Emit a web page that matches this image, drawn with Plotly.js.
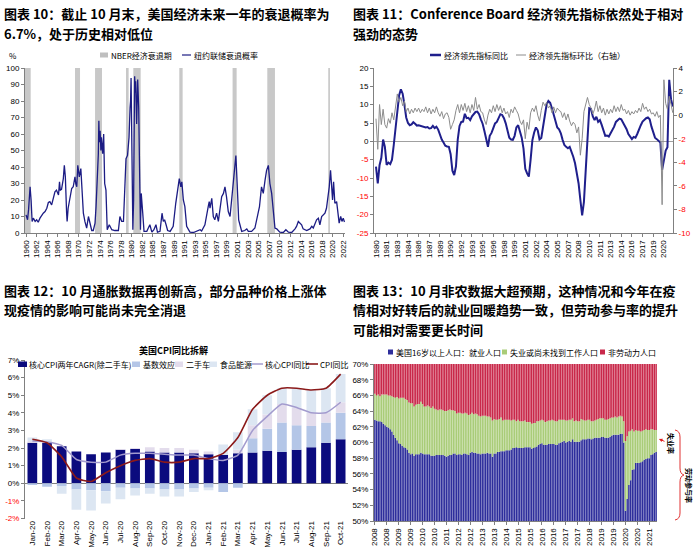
<!DOCTYPE html>
<html><head><meta charset="utf-8">
<script src="https://cdn.plot.ly/plotly-3.0.1.min.js"></script>
<style>html,body{margin:0;padding:0;background:#fff}#c{width:700px;height:557px}</style>
</head><body><div id="c"></div>
<script>
// ===== Panel 10: NY Fed recession probability (%) =====
const probX = [1960.0,1960.15,1960.3,1960.5,1960.65,1960.8,1961.0,1961.2,1961.45,1961.8,1962.1,1962.4,1962.75,1963.1,1963.4,1963.75,1964.1,1964.4,1964.7,1965.05,1965.4,1965.7,1966.0,1966.4,1966.6,1966.75,1967.0,1967.35,1967.55,1967.75,1968.0,1968.1,1968.3,1968.5,1968.7,1969.0,1969.3,1969.65,1969.8,1970.0,1970.2,1970.5,1970.8,1971.0,1971.3,1971.6,1971.95,1972.3,1972.6,1972.95,1973.25,1973.6,1973.8,1974.05,1974.25,1974.35,1974.45,1974.6,1974.75,1974.85,1975.0,1975.1,1975.3,1975.5,1975.75,1976.0,1976.4,1976.9,1977.5,1978.2,1978.5,1978.85,1979.2,1979.5,1979.7,1980.0,1980.3,1980.5,1980.6,1980.7,1980.9,1981.05,1981.2,1981.35,1981.4,1981.55,1981.6,1981.8,1982.0,1982.2,1982.4,1982.55,1982.7,1982.9,1983.0,1983.25,1983.8,1984.1,1984.4,1984.8,1985.2,1985.6,1985.9,1986.4,1986.8,1987.05,1987.3,1987.6,1987.9,1988.4,1989.0,1989.5,1989.9,1990.2,1990.5,1990.7,1991.0,1991.3,1991.65,1992.3,1993.0,1993.6,1994.3,1994.6,1995.25,1995.9,1996.1,1996.25,1996.6,1996.9,1997.2,1997.55,1997.9,1998.2,1998.55,1998.9,1999.2,1999.5,1999.85,2000.2,2000.5,2000.85,2001.1,2001.35,2001.6,2001.9,2002.15,2002.5,2003.1,2003.5,2003.8,2004.45,2005.1,2005.55,2006.0,2006.4,2006.75,2007.1,2007.4,2007.75,2008.05,2008.4,2008.7,2009.05,2009.4,2010.0,2010.7,2011.2,2011.7,2012.35,2013.0,2013.3,2013.65,2014.0,2014.3,2014.6,2015.3,2015.95,2016.3,2016.6,2016.9,2017.25,2017.6,2017.9,2018.25,2018.55,2018.9,2019.2,2019.55,2019.75,2020.0,2020.2,2020.4,2020.6,2020.85,2021.2,2021.5,2021.7,2022.0,2022.25,2022.5,2022.75];
const probY = [11,10,8,14,22,28,20,7,9,7,8,6.5,9,11,12,13,15,18.5,19,17,20.5,25,26,23,31,26,26.5,33,41,34,12,7,15,19,22,27,28,34,30,28,41,34,39,24,12,7,3,10,6,1.5,1.5,6,16,36,48,68,55,62,50,58,52,48,60,30,26,2,5,2,1.5,1.5,10,7,7,36,45,47,58,76,80,94,46,2,20,75,95,85,92,66,93,76,26,2,24,18,12,1,1,3,5,0.5,2,5,0.5,1,12,7,8,5,1.5,1,4,18,26,33,28,31,20,16,4,0.5,0.3,1,2,1.2,5,16,19,15,21,10,8,12,7,14,22,24,28,22,13,10,20,30,36,47,30,8,5,1,1.5,2.5,1,1,3,10,16,28,24,32,38,41,30,24,12,3,2.5,0.5,0.3,2,0.5,0.3,2.5,4,7,6,5,2.5,1.5,2.5,4,3,5,8,9,5,10,11,12,15,22,28,38,30,20,31,18,19,12,6,10,7,9,6.7];
const recStart = [1959.8,1969.65,1973.6,1979.7,1981.14,1990.2,2000.7,2007.54,2019.55];
const recEnd   = [1960.92,1970.64,1974.97,1980.22,1982.59,1990.86,2001.5,2009.05,2019.88];
const p10TickText = ['1960','1962','1964','1966','1968','1970','1972','1974','1976','1978','1980','1982','1985','1987','1989','1991','1993','1995','1997','1999','2001','2003','2005','2007','2010','2012','2014','2016','2018','2020','2022'];

// ===== Panel 11: Conference Board LEI, quarterly (Jan/Apr/Jul/Oct) from 1980 =====
const leiStartYear = 1980;
const leiYoY = [
 -6.9,-11.5,-6.5,-4.5,  0.5,-1.5,-6.4,-5.8,  -6.2,-5.0,-1.0,3.5,  9.0,12.5,14.2,13.0,
 10.0,6.5,5.0,4.4,  4.6,5.2,4.8,4.3,  4.4,4.2,4.0,4.0,  3.8,3.9,3.5,3.6,
 4.2,3.6,4.0,3.2,  1.5,0.5,-0.3,-1.2,  -1.4,-1.5,-3.5,-8.0,  -9.2,-6.8,0.5,4.2,
 5.3,5.4,7.5,6.3,  6.4,5.8,6.8,7.4,  8.0,8.1,7.4,6.0,  4.8,2.8,0.8,-1.5,
 1.5,2.3,3.6,4.9,  5.3,6.6,7.4,7.2,  6.3,4.9,3.2,1.0,  0.5,0.4,1.5,3.8,
 4.4,3.0,1.0,-2.0,  -7.5,-8.7,-9.6,-5.0,  0.3,2.4,3.8,3.0,  0.5,0.9,4.2,7.8,
 10.0,11.0,10.5,9.0,  7.0,5.5,3.8,3.3,  2.2,0.4,-1.0,-1.5,  -1.9,-1.5,-2.8,-4.2,
 -6.0,-8.5,-11.5,-16.0,  -20.2,-16.5,-8.0,1.0,  9.0,8.8,6.8,5.8,  6.7,5.3,5.8,4.5,
 3.1,1.5,1.6,1.3,  2.2,3.0,4.0,5.3,  5.8,6.2,6.0,5.2,  4.2,3.3,2.0,1.1,
 0.6,1.2,1.0,2.0,  3.5,4.4,5.4,6.0,  6.3,6.5,6.0,4.0,  2.2,1.0,0.6,0.0,
 -0.3,-7.8,-4.5,-2.5,  -1.6,16.8,11.5,9.5];
const leiMoM = [
 -0.3,-2.9,0.9,-0.8,  0.5,-0.8,-1.1,-0.3,  -0.7,0.2,-0.4,0.7,  1.8,1.1,1.5,0.8,
 1.2,0.3,0.6,0.1,  0.5,0.2,0.6,0.3,  0.6,0.2,0.5,0.3,  0.7,0.2,0.6,0.1,
 0.5,0.2,0.7,0.2,  -0.1,0.3,-0.3,0.1,  0.2,-0.2,-1.2,-0.8,  -0.4,0.4,0.9,0.2,
 0.9,0.4,1.0,0.3,  0.8,0.2,0.9,0.4,  1.5,0.5,0.9,0.3,  0.2,-0.4,-0.8,0.0,
 0.5,0.2,0.8,0.3,  0.9,0.4,0.8,0.2,  0.6,0.1,0.3,-0.2,  0.5,0.2,0.7,0.4,
 0.1,-0.5,-0.8,-0.4,  -2.0,-0.6,-1.2,0.2,  0.6,0.3,0.8,0.0,  -0.5,0.4,1.1,0.8,
 1.1,0.6,0.8,0.2,  0.7,0.2,0.6,0.4,  0.3,-0.2,0.2,-0.4,  0.1,-0.5,-0.9,-0.6,
 -0.8,-1.5,-1.0,-3.4,  -2.0,0.3,0.9,1.5,  0.9,0.6,0.1,0.5,  1.2,0.3,0.8,0.2,
 0.6,0.0,0.5,0.1,  0.5,0.2,0.8,0.3,  0.7,0.3,0.9,0.4,  0.5,0.1,0.4,0.0,
 0.3,0.1,0.4,0.2,  0.6,0.3,1.0,0.5,  0.7,0.3,0.5,0.1,  0.2,-0.1,0.3,-0.2,
 0.0,-7.6,3.0,1.0,  0.5,1.6,0.9,0.2];
const p11TickText = ['1980','1981','1983','1984','1986','1987','1989','1990','1992','1993','1995','1996','1998','1999','2001','2002','2004','2005','2007','2008','2010','2011','2013','2014','2016','2017','2019','2020'];

// ===== Panel 12: US CPI YoY decomposition (%) =====
const cpiMonths = ['Jan-20','Feb-20','Mar-20','Apr-20','May-20','Jun-20','Jul-20','Aug-20','Sep-20','Oct-20','Nov-20','Dec-20','Jan-21','Feb-21','Mar-21','Apr-21','May-21','Jun-21','Jul-21','Aug-21','Sep-21','Oct-21'];
const coreCagr  = [2.3,2.3,2.1,1.8,1.65,1.75,1.9,1.95,1.8,1.75,1.75,1.7,1.65,1.6,1.7,1.75,1.85,1.78,1.9,2.05,2.3,2.5];
const baseEff   = [-0.1,-0.2,-0.15,-0.35,-0.4,-0.45,-0.25,-0.3,-0.3,-0.35,-0.35,-0.3,-0.25,-0.5,-0.25,0.8,1.25,1.67,1.4,1.2,1.15,1.5];
const usedCars  = [0.1,0.05,0,0,0,0,0.05,0.05,0.25,0.25,0.25,0.2,0.15,0,0.2,0.75,0.8,1.05,1.0,0.75,0.55,0.6];
const foodEnergy= [0.2,0.15,-0.45,-1.15,-1.15,-0.7,-0.65,-0.4,-0.3,-0.4,-0.4,-0.2,-0.15,0.6,1.0,0.9,1.1,0.9,1.1,1.3,1.4,1.6];
const coreYoY   = [2.4,2.35,2.15,1.35,1.2,1.2,1.6,1.7,1.7,1.65,1.6,1.6,1.4,1.3,1.6,3.0,3.8,4.5,4.3,4.0,4.0,4.6];
const cpiYoY    = [2.5,2.3,1.5,0.3,0.1,0.6,1.0,1.3,1.4,1.2,1.2,1.4,1.4,1.7,2.6,4.2,5.0,5.4,5.4,5.3,5.4,6.2];

// ===== Panel 13: US population 16+ (%), monthly Jan-2008 .. Oct-2021 =====
const empPop = [
 62.9,62.8,62.7,62.7,62.6,62.4,62.2,62.0,61.9,61.7,61.4,61.0,
 60.6,60.3,59.9,59.8,59.6,59.4,59.3,59.1,58.7,58.5,58.6,58.3,
 58.5,58.5,58.5,58.7,58.6,58.5,58.5,58.5,58.5,58.3,58.3,58.3,
 58.4,58.4,58.4,58.4,58.4,58.3,58.2,58.3,58.4,58.4,58.6,58.6,
 58.4,58.5,58.5,58.4,58.6,58.6,58.5,58.4,58.7,58.8,58.7,58.7,
 58.6,58.6,58.5,58.6,58.6,58.6,58.7,58.6,58.6,58.2,58.6,58.6,
 58.8,58.8,58.9,58.9,58.9,59.0,59.0,59.0,59.1,59.3,59.3,59.4,
 59.3,59.3,59.3,59.3,59.4,59.4,59.4,59.4,59.2,59.3,59.4,59.5,
 59.7,59.8,59.9,59.7,59.7,59.7,59.8,59.8,59.8,59.8,59.7,59.7,
 59.9,60.0,60.1,60.2,60.0,60.1,60.2,60.1,60.4,60.1,60.1,60.1,
 60.1,60.3,60.4,60.4,60.4,60.5,60.5,60.4,60.5,60.6,60.6,60.6,
 60.6,60.7,60.7,60.6,60.6,60.6,60.7,60.9,61.0,61.0,61.0,61.0,
 61.1,61.1,60.0,51.3,52.8,54.6,55.2,56.5,56.6,57.4,57.4,57.4,
 57.5,57.6,57.8,57.9,58.0,58.0,58.4,58.5,58.7,58.8];
const partRate = [
 66.2,66.0,66.1,65.9,66.1,66.1,66.1,66.1,66.0,66.0,65.9,65.8,
 65.7,65.8,65.6,65.7,65.7,65.7,65.5,65.4,65.1,65.0,65.0,64.6,
 64.8,64.9,64.9,65.2,64.9,64.6,64.6,64.7,64.6,64.4,64.6,64.3,
 64.2,64.1,64.2,64.2,64.1,64.0,64.0,64.1,64.2,64.1,64.1,64.0,
 63.7,63.8,63.8,63.7,63.7,63.8,63.7,63.5,63.6,63.8,63.6,63.7,
 63.6,63.4,63.3,63.4,63.4,63.4,63.3,63.3,63.2,62.8,63.0,62.9,
 62.9,63.0,63.2,62.8,62.9,62.9,62.9,62.9,62.8,62.9,62.9,62.7,
 62.9,62.7,62.7,62.7,62.8,62.6,62.6,62.6,62.4,62.5,62.5,62.7,
 62.7,62.8,62.9,62.8,62.6,62.7,62.8,62.8,62.9,62.8,62.7,62.7,
 62.9,62.9,62.9,62.9,62.8,62.8,62.9,62.9,63.1,62.7,62.8,62.7,
 62.7,63.0,62.9,62.8,62.8,62.9,62.9,62.7,62.7,62.8,62.9,63.0,
 63.1,63.1,63.1,62.9,62.9,63.0,63.1,63.2,63.2,63.3,63.2,63.3,
 63.4,63.3,62.7,60.2,60.8,61.4,61.5,61.7,61.4,61.6,61.5,61.5,
 61.4,61.5,61.6,61.7,61.6,61.6,61.7,61.7,61.6,61.6];
const p13TickText = ['2008','2008','2009','2009','2010','2010','2011','2012','2012','2013','2013','2014','2015','2015','2016','2016','2017','2017','2018','2019','2019','2020','2020','2021'];

// ===== styling / layout helpers =====
const W=700,H=557;
const PX=x=>x/W, PY=y=>1-y/H;
const CJK='Noto Sans CJK SC, sans-serif';
const LAT='Liberation Sans, Arial, sans-serif';
const RED='#FF0000';
const tf={family:LAT,size:8,color:'#000'};
const negLab=(v,s)=>v<0?'<span style="color:'+RED+'">'+v+s+'</span>':(v+s);

const navy10='#1C1C84', navyLEI='#1F1F8C', grayLEI='#8C8C8C';
const cCore='#0B0B7E', cBase='#B4C6E7', cCars='#E3DCEC', cFood='#DCE6F2', cCoreLine='#A39BCE', cCpiLine='#8B1A1A';
const cEmp='#2E2E9C', cUnemp='#A9CC78', cNilf='#C9284A';

const traces=[];
// Panel 10
traces.push({type:'bar',x:recStart.map((s,i)=>(s+recEnd[i])/2),y:recStart.map(()=>100),width:recStart.map((s,i)=>recEnd[i]-s),
  marker:{color:'#C8C8C8'},xaxis:'x',yaxis:'y',showlegend:false,hoverinfo:'skip'});
traces.push({type:'scatter',mode:'lines',x:probX,y:probY,line:{color:navy10,width:1.3},xaxis:'x',yaxis:'y',showlegend:false});
// Panel 11
const leiX=leiYoY.map((v,i)=>leiStartYear+i/4);
traces.push({type:'scatter',mode:'lines',x:leiX,y:leiYoY,line:{color:navyLEI,width:2},xaxis:'x2',yaxis:'y2',showlegend:false});
traces.push({type:'scatter',mode:'lines',x:leiMoM.map((v,i)=>leiStartYear+i/4),y:leiMoM,line:{color:grayLEI,width:1},xaxis:'x2',yaxis:'y3',showlegend:false});
// Panel 12
[[coreCagr,cCore],[baseEff,cBase],[usedCars,cCars],[foodEnergy,cFood]].forEach(([d,c])=>{
  traces.push({type:'bar',x:cpiMonths,y:d,width:0.66,marker:{color:c},xaxis:'x3',yaxis:'y4',showlegend:false});
});
traces.push({type:'scatter',mode:'lines',x:cpiMonths,y:coreYoY,line:{color:cCoreLine,width:1.5,shape:'spline',smoothing:0.5},xaxis:'x3',yaxis:'y4',showlegend:false});
traces.push({type:'scatter',mode:'lines',x:cpiMonths,y:cpiYoY,line:{color:cCpiLine,width:1.6,shape:'spline',smoothing:0.5},xaxis:'x3',yaxis:'y4',showlegend:false});
// Panel 13
const mIdx=empPop.map((v,i)=>i);
traces.push({type:'bar',x:mIdx,y:empPop,width:0.85,marker:{color:cEmp},xaxis:'x4',yaxis:'y5',showlegend:false});
traces.push({type:'bar',x:mIdx,y:partRate.map((v,i)=>+(v-empPop[i]).toFixed(2)),width:0.85,marker:{color:cUnemp},xaxis:'x4',yaxis:'y5',showlegend:false});
traces.push({type:'bar',x:mIdx,y:partRate.map(v=>+(100-v).toFixed(2)),width:0.85,marker:{color:cNilf},xaxis:'x4',yaxis:'y5',showlegend:false});

const axCommon={showgrid:false,zeroline:false,showline:true,linecolor:'#808080',linewidth:1,ticks:'outside',ticklen:3,tickcolor:'#808080',tickfont:tf,fixedrange:true};

const p10TV=p10TickText.map((t,k)=>1960+k*25/12);
const p11TV=p11TickText.map((t,k)=>1980+k*1.5);
const p13TV=p13TickText.map((t,k)=>k*7);
const y11L=[20,15,10,5,0,-5,-10,-15,-20,-25];
const y11R=[4,2,0,-2,-4,-6,-8,-10];
const y12=[7,6,5,4,3,2,1,0,-1,-2];

const layout={
  width:W,height:H,margin:{l:0,r:0,t:0,b:0},paper_bgcolor:'#fff',plot_bgcolor:'rgba(0,0,0,0)',
  barmode:'relative',showlegend:false,font:{family:CJK,color:'#000'},
  xaxis:Object.assign({},axCommon,{domain:[PX(25),PX(345)],anchor:'y',range:[1959.8,2022.85],tickmode:'array',tickvals:p10TV,ticktext:p10TickText,tickangle:-90}),
  yaxis:Object.assign({},axCommon,{domain:[PY(233),PY(68)],anchor:'x',range:[0,100],dtick:10,tick0:0}),
  xaxis2:Object.assign({},axCommon,{domain:[PX(374),PX(673)],anchor:'y2',range:[1979.72,2021.78],tickmode:'array',tickvals:p11TV,ticktext:p11TickText,tickangle:-90}),
  yaxis2:Object.assign({},axCommon,{domain:[PY(233),PY(68)],anchor:'x2',range:[-25,20],tickmode:'array',tickvals:y11L,ticktext:y11L.map(v=>negLab(v,'')),zeroline:true,zerolinecolor:'#A0A0A0',zerolinewidth:1}),
  yaxis3:Object.assign({},axCommon,{overlaying:'y2',side:'right',anchor:'x2',range:[-10,4],tickmode:'array',tickvals:y11R,ticktext:y11R.map(v=>negLab(v,''))}),
  xaxis3:Object.assign({},axCommon,{domain:[PX(25),PX(348)],anchor:'y4',type:'category',range:[-0.5,21.5],tickangle:-90,showline:false,ticks:''}),
  yaxis4:Object.assign({},axCommon,{domain:[PY(518.5),PY(360)],anchor:'x3',range:[-2,7],tickmode:'array',tickvals:y12,ticktext:y12.map(v=>negLab(v,'%')),zeroline:true,zerolinecolor:'#808080',zerolinewidth:1}),
  xaxis4:Object.assign({},axCommon,{domain:[PX(374),PX(657)],anchor:'y5',range:[-0.5,165.5],tickmode:'array',tickvals:p13TV,ticktext:p13TickText,tickangle:-90}),
  yaxis5:Object.assign({},axCommon,{domain:[PY(521),PY(364)],anchor:'x4',range:[50,70],dtick:2,tick0:50,ticksuffix:'%'}),
  annotations:[],shapes:[]
};

const A=layout.annotations, S=layout.shapes;
function txt(x,y,t,size,opts){A.push(Object.assign({xref:'paper',yref:'paper',x:PX(x),y:PY(y),text:t,showarrow:false,xanchor:'left',yanchor:'middle',font:{family:CJK,size:size,color:'#000'},borderpad:0},opts||{}));}
function rect(x0,x1,y0,y1,c){S.push({type:'rect',xref:'paper',yref:'paper',x0:PX(x0),x1:PX(x1),y0:PY(y1),y1:PY(y0),fillcolor:c,line:{width:0}});}
function hline(x0,x1,y,c,w){S.push({type:'line',xref:'paper',yref:'paper',x0:PX(x0),x1:PX(x1),y0:PY(y),y1:PY(y),line:{color:c,width:w}});}

// Titles
const T=13;
txt(3,13,'<b>图表 10：截止 10 月末，美国经济未来一年的衰退概率为</b>',T);
txt(3,33,'<b>6.7%，处于历史相对低位</b>',T);
txt(352,13,'<b>图表 11：Conference Board 经济领先指标依然处于相对</b>',T);
txt(352,33,'<b>强劲的态势</b>',T);
txt(3,290,'<b>图表 12：10 月通胀数据再创新高，部分品种价格上涨体</b>',T);
txt(3,309,'<b>现疫情的影响可能尚未完全消退</b>',T);
txt(352,290,'<b>图表 13：10 月非农数据大超预期，这种情况和今年在疫</b>',T);
txt(352,309,'<b>情相对好转后的就业回暖趋势一致，但劳动参与率的提升</b>',T);
txt(352,329,'<b>可能相对需要更长时间</b>',T);

// Panel 10 legend
const LF=8;
txt(8,55,'%',LF);
rect(100,108,52.5,57.5,'#BFBFBF'); txt(110,55,'NBER经济衰退期',LF);
hline(182,191,55,navy10,1.2); txt(193,55,'纽约联储衰退概率',LF);
// Panel 11 legend
hline(430,441,55,navyLEI,2.5); txt(443,55,'经济领先指标同比',LF);
hline(516,526,55,grayLEI,1); txt(528,55,'经济领先指标环比（右轴）',LF);
// Panel 12 title + legend
txt(173,350,'<b>美国CPI同比拆解</b>',9,{xanchor:'center'});
const LY=364;
rect(18,27,361.5,367,cCore); txt(28,LY,'核心CPI两年CAGR(除二手车)',LF);
rect(132,140,361.5,367,cBase); txt(142,LY,'基数效应',LF);
rect(175,183,361.5,367,cCars); txt(185,LY,'二手车',LF);
rect(209,217,361.5,367,cFood); txt(219,LY,'食品能源',LF);
hline(252,263,LY,cCoreLine,1.5); txt(264,LY,'核心CPI同比',LF);
hline(306,318,LY,cCpiLine,1.6); txt(319,LY,'CPI同比',LF);
// Panel 13 legend
const LY2=352;
rect(388,393,349.5,354.5,cEmp); txt(395,LY2,'美国16岁以上人口：就业人口',LF);
rect(502,507,349.5,354.5,cUnemp); txt(509,LY2,'失业或尚未找到工作人口',LF);
rect(600,605,349.5,354.5,cNilf); txt(607,LY2,'非劳动力人口',LF);
// Panel 13 side notes
txt(671,443,'<b>失业率</b>',7,{xanchor:'center',textangle:90});
txt(689,485,'<b>劳动参与率</b>',7,{xanchor:'center',textangle:90});
A.push({xref:'paper',yref:'paper',x:PX(659),y:PY(439),ax:7,ay:3,text:'',showarrow:true,arrowhead:2,arrowsize:0.7,arrowwidth:1,arrowcolor:'#E02020'});
const pp=(x,y)=>PX(x)+','+PY(y);
S.push({type:'path',xref:'paper',yref:'paper',line:{color:'#E03030',width:1},
  path:'M'+pp(675,430)+' Q'+pp(680,431)+' '+pp(680,437)+' L'+pp(680,468)+' Q'+pp(680,474)+' '+pp(684,475)+' Q'+pp(680,476)+' '+pp(680,482)+' L'+pp(680,513)+' Q'+pp(680,519)+' '+pp(675,520)});

Plotly.newPlot('c',traces,layout,{displayModeBar:false,staticPlot:true});
</script></body></html>
